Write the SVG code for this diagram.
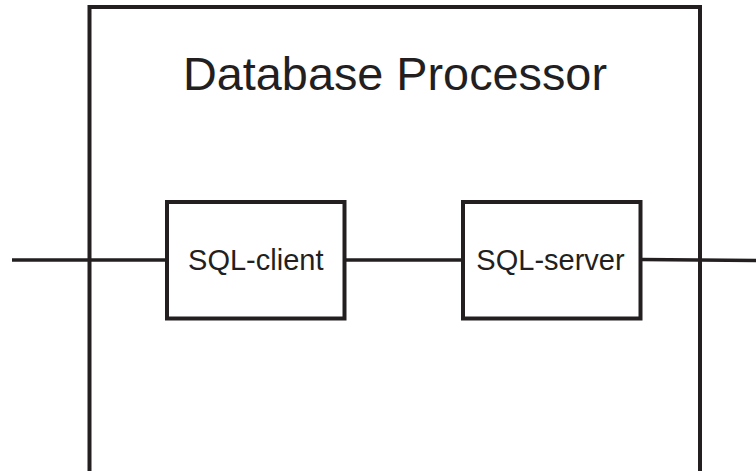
<svg xmlns="http://www.w3.org/2000/svg" width="756" height="471" viewBox="0 0 756 471">
  <style>
    .box { fill: none; stroke: #231f20; stroke-width: 4; }
    .wire { fill: none; stroke: #231f20; stroke-width: 3.5; }
    .label { font-family: "Liberation Sans", Arial, sans-serif; fill: #231f20; text-anchor: middle; }
  </style>
  <rect width="756" height="471" fill="#ffffff"/>
  <!-- enclosing processor frame (continues below the visible area) -->
  <g id="database-processor">
    <rect class="box" x="89.5" y="7" width="610.5" height="490"/>
    <text class="label" x="395" y="90" font-size="46.8">Database Processor</text>
  </g>
  <!-- connectors -->
  <g id="connectors">
    <line class="wire" x1="12" y1="260" x2="167" y2="260"/>
    <line class="wire" x1="344.5" y1="260" x2="463" y2="260"/>
    <line class="wire" x1="640.5" y1="259.5" x2="756" y2="260.5"/>
  </g>
  <g id="sql-client">
    <rect class="box" x="167" y="202" width="177.5" height="116.5"/>
    <text class="label" x="255.8" y="270" font-size="29">SQL-client</text>
  </g>
  <g id="sql-server">
    <rect class="box" x="463" y="202" width="177.5" height="116.5"/>
    <text class="label" x="550.5" y="270" font-size="29">SQL-server</text>
  </g>
</svg>
